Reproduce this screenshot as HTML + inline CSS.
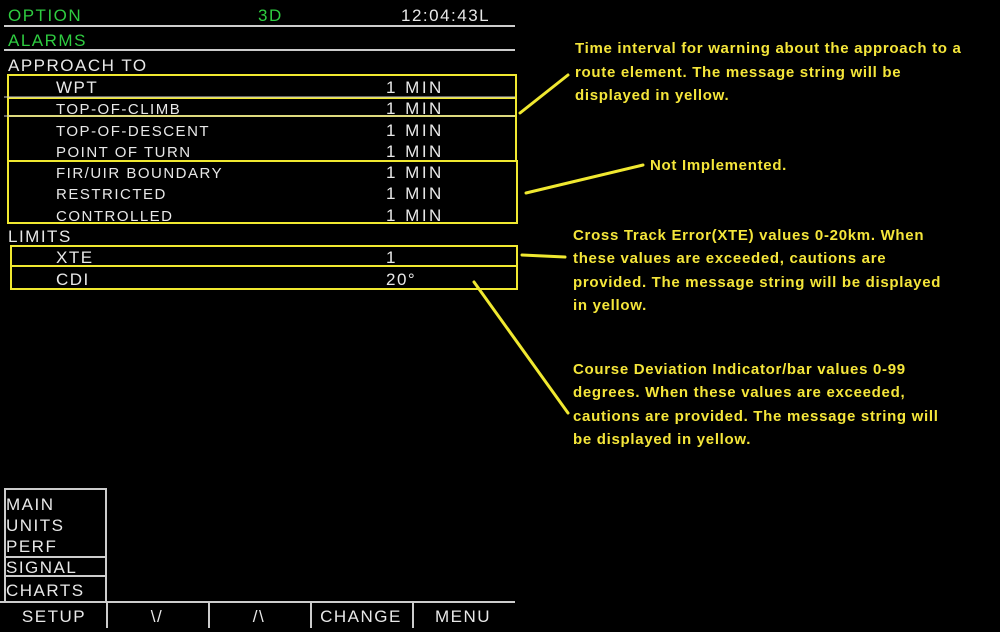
<!DOCTYPE html>
<html><head><meta charset="utf-8"><style>
html,body{margin:0;padding:0;background:#000;width:1000px;height:632px;overflow:hidden}
svg{display:block}
.s{font-family:"Liberation Sans",sans-serif;font-size:17px;fill:#e8e8e8;letter-spacing:1.5px}
.g{fill:#2ecc40}
.a{font-family:"Liberation Sans",sans-serif;font-weight:bold;font-size:15px;fill:#f5e63a;letter-spacing:0.7px;white-space:pre}
</style></head><body>
<svg width="1000" height="632" viewBox="0 0 1000 632" xml:space="preserve">
<rect width="1000" height="632" fill="#000"/>
<text x="8" y="21" class="s g">OPTION</text>
<text x="258" y="21" class="s g">3D</text>
<text x="401" y="21" class="s">12:04:43L</text>
<line x1="4" y1="26" x2="515" y2="26" stroke="#ccc" stroke-width="2"/>
<text x="8" y="46" class="s g">ALARMS</text>
<line x1="4" y1="50" x2="515" y2="50" stroke="#ccc" stroke-width="2"/>
<text x="8" y="71" class="s">APPROACH TO</text>
<g class="s">
<text x="56" y="93">WPT</text><text x="386" y="93" letter-spacing="2.5">1 MIN</text>
<text x="56" y="114" font-size="15">TOP-OF-CLIMB</text><text x="386" y="114" letter-spacing="2.5">1 MIN</text>
<text x="56" y="136" font-size="15">TOP-OF-DESCENT</text><text x="386" y="136" letter-spacing="2.5">1 MIN</text>
<text x="56" y="157" font-size="15">POINT OF TURN</text><text x="386" y="157" letter-spacing="2.5">1 MIN</text>
<text x="56" y="178" font-size="15">FIR/UIR BOUNDARY</text><text x="386" y="178" letter-spacing="2.5">1 MIN</text>
<text x="56" y="199" font-size="15">RESTRICTED</text><text x="386" y="199" letter-spacing="2.5">1 MIN</text>
<text x="56" y="221" font-size="15">CONTROLLED</text><text x="386" y="221" letter-spacing="2.5">1 MIN</text>
<text x="8" y="242">LIMITS</text>
<text x="56" y="263">XTE</text><text x="386" y="263">1</text>
<text x="56" y="285">CDI</text><text x="386" y="285">20°</text>
</g>
<g fill="none" stroke="#f0e830" stroke-width="2">
<rect x="8" y="75" width="508" height="86"/>
<line x1="8" y1="98" x2="516" y2="98"/>
<line x1="8" y1="116" x2="516" y2="116"/>
<rect x="8" y="161" width="509" height="62"/>
<rect x="11" y="246" width="506" height="20"/>
<rect x="11" y="266" width="506" height="23"/>
</g>
<line x1="4" y1="97" x2="515" y2="97" stroke="#ccc" stroke-width="1"/>
<line x1="4" y1="116" x2="515" y2="116" stroke="#ccc" stroke-width="1"/>
<g stroke="#f0e830" stroke-width="3" stroke-linecap="round">
<line x1="520" y1="113" x2="568" y2="75"/>
<line x1="526" y1="193" x2="643" y2="165"/>
<line x1="522" y1="255" x2="565" y2="257"/>
<line x1="474" y1="282" x2="568" y2="413"/>
</g>
<g class="a">
<text x="575" y="53">Time interval for warning about the approach to a</text>
<text x="575" y="77">route element.  The message string will be</text>
<text x="575" y="100">displayed in yellow.</text>
<text x="650" y="170">Not Implemented.</text>
<text x="573" y="240">Cross Track Error(XTE) values 0-20km. When</text>
<text x="573" y="263">these values are exceeded, cautions are</text>
<text x="573" y="287">provided.  The message string will be displayed</text>
<text x="573" y="310">in yellow.</text>
<text x="573" y="374">Course Deviation Indicator/bar values 0-99</text>
<text x="573" y="397">degrees. When these values are exceeded,</text>
<text x="573" y="421">cautions are provided.  The message string will</text>
<text x="573" y="444">be displayed in yellow.</text>
</g>
<g fill="none" stroke="#ccc" stroke-width="2">
<polyline points="5,602 5,489 106,489 106,602"/>
<line x1="5" y1="557" x2="106" y2="557"/>
<line x1="5" y1="576" x2="106" y2="576"/>
<line x1="0" y1="602" x2="515" y2="602"/>
<line x1="107" y1="602" x2="107" y2="628"/>
<line x1="209" y1="602" x2="209" y2="628"/>
<line x1="311" y1="602" x2="311" y2="628"/>
<line x1="413" y1="602" x2="413" y2="628"/>
</g>
<g class="s" letter-spacing="0.5">
<text x="6" y="510">MAIN</text>
<text x="6" y="531">UNITS</text>
<text x="6" y="552">PERF</text>
<text x="6" y="573">SIGNAL</text>
<text x="6" y="596">CHARTS</text>
</g>
<g class="s" text-anchor="middle" letter-spacing="0.5">
<text x="54" y="622">SETUP</text>
<text x="157" y="622">\/</text>
<text x="259" y="622">/\</text>
<text x="361" y="622">CHANGE</text>
<text x="463" y="622">MENU</text>
</g>
</svg>
</body></html>
